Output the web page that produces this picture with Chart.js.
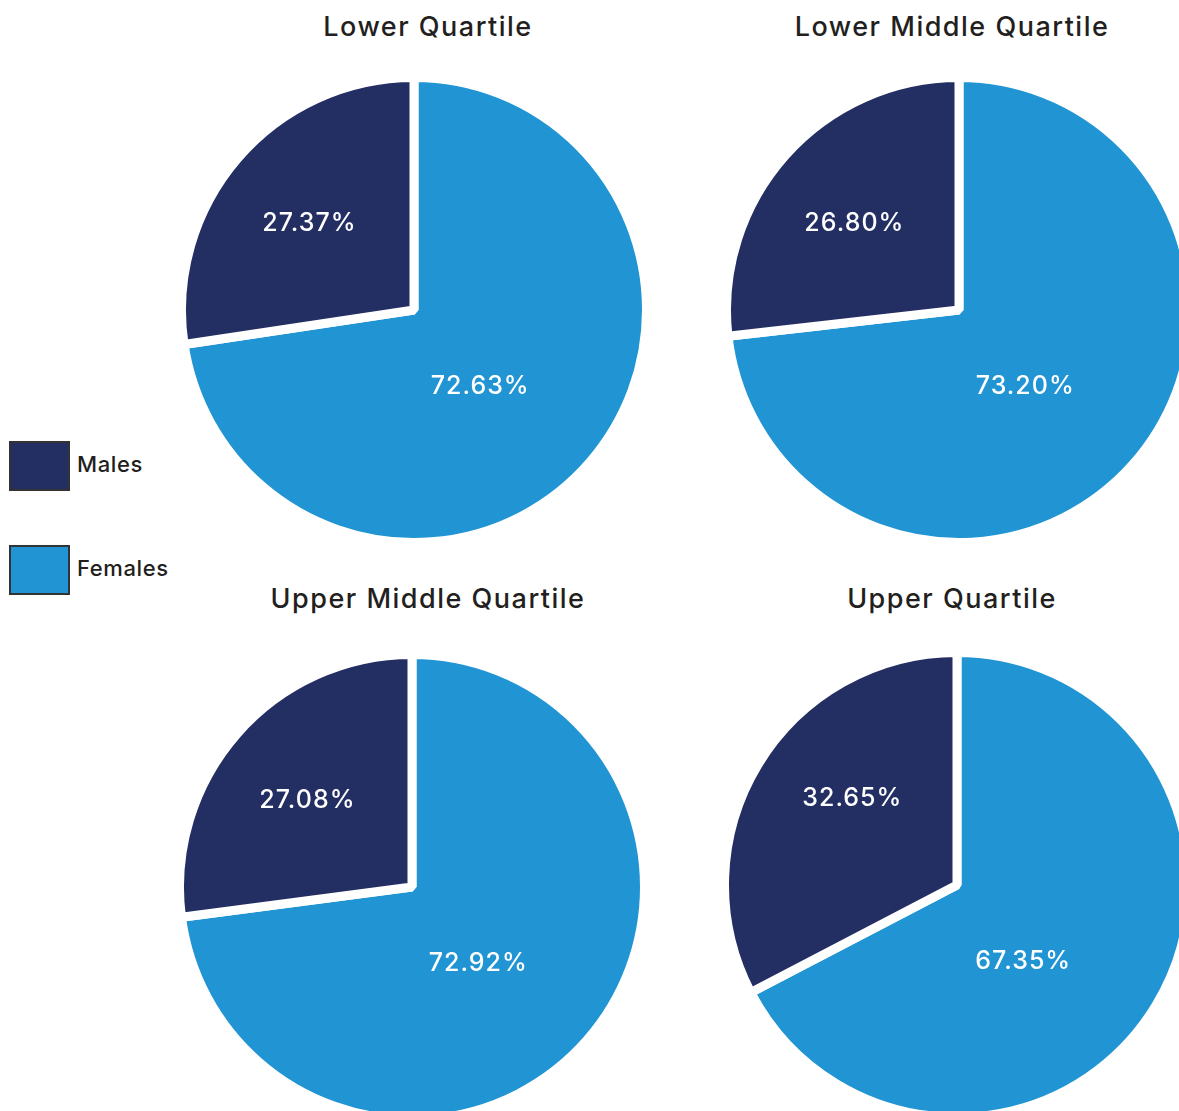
<!DOCTYPE html>
<html>
<head>
<meta charset="utf-8">
<script src="https://cdn.jsdelivr.net/npm/chart.js@4.4.1/dist/chart.umd.min.js"></script>
<style>
  html, body { margin: 0; padding: 0; background: #fff; }
  body { width: 1179px; height: 1111px; overflow: hidden; position: relative; font-family: Inter, "Noto Sans", sans-serif; color: #231f20; }
  .title { position: absolute; font-size: 27px; font-weight: 500; letter-spacing: 1.5px; text-align: center; width: 500px; }
  .pie { position: absolute; }
  .legend { position: absolute; left: 9px; font-size: 22px; font-weight: 500; letter-spacing: 0.6px; }
  .legend .row { position: absolute; left: 0; white-space: nowrap; }
  .legend .box { position: absolute; left: 0; top: 0; width: 57px; height: 46px; border: 2px solid #333; }
  .legend .lbl { position: absolute; left: 68px; top: 10px; }
</style>
</head>
<body>

<div class="title" style="left:178px; top:10px;">Lower Quartile</div>
<div class="title" style="left:702px; top:10px;">Lower Middle Quartile</div>
<div class="title" style="left:178px; top:582px;">Upper Middle Quartile</div>
<div class="title" style="left:702px; top:582px;">Upper Quartile</div>

<canvas id="pie0" class="pie" style="left:177px; top:73px;"></canvas>
<canvas id="pie1" class="pie" style="left:722px; top:73px;"></canvas>
<canvas id="pie2" class="pie" style="left:175px; top:650px;"></canvas>
<canvas id="pie3" class="pie" style="left:720px; top:648px;"></canvas>

<div class="legend" id="legend" style="top:441px;"></div>

<script>
// data
const quartiles = ['Lower Quartile', 'Lower Middle Quartile', 'Upper Middle Quartile', 'Upper Quartile'];
const groups = ['Females', 'Males'];
const females = [72.63, 73.20, 72.92, 67.35];
const males = [27.37, 26.80, 27.08, 32.65];

const colors = { Males: '#232e63', Females: '#2194d3' };

// legend (Males first, like the reference)
const legend = document.getElementById('legend');
['Males', 'Females'].forEach((name, i) => {
  const row = document.createElement('div');
  row.className = 'row';
  row.style.top = (i * 104) + 'px';
  row.innerHTML = '<div class="box" style="background:' + colors[name] + '"></div><div class="lbl">' + name + '</div>';
  legend.appendChild(row);
});

// percentage labels, placed relative to the pie centre
const labelPlugin = {
  id: 'pctLabels',
  afterDatasetsDraw(chart) {
    const ctx = chart.ctx;
    const meta = chart.getDatasetMeta(0);
    const ds = chart.data.datasets[0];
    ctx.save();
    ctx.fillStyle = '#fff';
    ctx.font = '500 25px Inter, "Noto Sans", sans-serif';
    ctx.letterSpacing = '1px';
    ctx.textAlign = 'center';
    ctx.textBaseline = 'middle';
    meta.data.forEach((arc, i) => {
      const r = arc.outerRadius;
      const isMale = chart.data.labels[i] === 'Males';
      const dx = isMale ? -0.45 * r : 0.285 * r;
      const dy = isMale ? -0.37 * r : 0.33 * r;
      ctx.fillText(ds.data[i].toFixed(2) + '%', arc.x + dx, arc.y + dy);
    });
    ctx.restore();
  }
};

quartiles.forEach((q, i) => {
  const canvas = document.getElementById('pie' + i);
  canvas.width = 474;
  canvas.height = 474;
  new Chart(canvas.getContext('2d'), {
    type: 'pie',
    data: {
      labels: groups,
      datasets: [{
        label: q,
        data: [females[i], males[i]],
        backgroundColor: groups.map((g) => colors[g]),
        borderColor: '#fff',
        borderWidth: 9
      }]
    },
    options: {
      responsive: false,
      animation: false,
      events: [],
      layout: { padding: 0 },
      plugins: {
        legend: { display: false },
        tooltip: { enabled: false },
        title: { display: false }
      }
    },
    plugins: [labelPlugin]
  });
});
</script>
</body>
</html>
